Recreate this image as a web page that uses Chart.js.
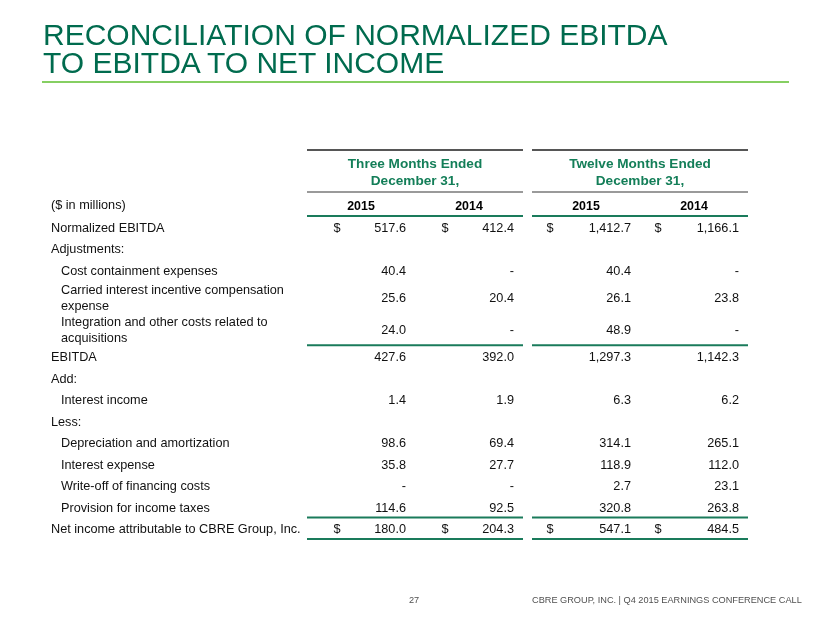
<!DOCTYPE html>
<html><head><meta charset="utf-8">
<script src="https://cdn.jsdelivr.net/npm/chart.js@4.4.1/dist/chart.umd.min.js"></script>
<style>
html,body{margin:0;padding:0;background:#fff;width:830px;height:623px;overflow:hidden;font-family:"Liberation Sans",Arial,sans-serif;}
#wrap{position:absolute;left:0;top:0;width:830px;height:623px;}
#title{position:absolute;left:43px;top:21px;font-size:30px;line-height:27.5px;color:#006B4E;white-space:nowrap;}
#rule{position:absolute;left:42px;top:81px;width:747px;height:1.5px;background:#86CF62;}
.foot{position:absolute;top:594px;font-size:9.2px;color:#505050;line-height:13px;white-space:nowrap;}
#pg{left:404px;width:20px;text-align:center;}
#ft{left:532px;}
</style></head><body>
<div id="wrap"><canvas id="c" width="830" height="623"></canvas></div>
<div id="title">RECONCILIATION OF NORMALIZED EBITDA<br>TO EBITDA TO NET INCOME</div>
<div id="rule"></div>
<div class="foot" id="pg">27</div>
<div class="foot" id="ft">CBRE GROUP, INC. | Q4 2015 EARNINGS CONFERENCE CALL</div>
<script>
// ---- data ----
const unitLabel = '($ in millions)';
const groupHeaders = [['Three Months Ended', 'December 31,'], ['Twelve Months Ended', 'December 31,']];
const yearLabels = ['2015', '2014', '2015', '2014'];
const rowLabels = [
  'Normalized EBITDA',
  'Adjustments:',
  'Cost containment expenses',
  ['Carried interest incentive compensation', 'expense'],
  ['Integration and other costs related to', 'acquisitions'],
  'EBITDA',
  'Add:',
  'Interest income',
  'Less:',
  'Depreciation and amortization',
  'Interest expense',
  'Write-off of financing costs',
  'Provision for income taxes',
  'Net income attributable to CBRE Group, Inc.'
];
const rowLevels = [0, 0, 1, 1, 1, 0, 0, 1, 0, 1, 1, 1, 1, 0];
const currencyRows = [true, false, false, false, false, false, false, false, false, false, false, false, false, true];
const totalRows = ['EBITDA', 'Net income attributable to CBRE Group, Inc.'];
// 0 is shown as "-"; null = no cell
const threeMonths2015 = [517.6, null, 40.4, 25.6, 24.0, 427.6, null, 1.4, null, 98.6, 35.8, 0, 114.6, 180.0];
const threeMonths2014 = [412.4, null, 0, 20.4, 0, 392.0, null, 1.9, null, 69.4, 27.7, 0, 92.5, 204.3];
const twelveMonths2015 = [1412.7, null, 40.4, 26.1, 48.9, 1297.3, null, 6.3, null, 314.1, 118.9, 2.7, 320.8, 547.1];
const twelveMonths2014 = [1166.1, null, 0, 23.8, 0, 1142.3, null, 6.2, null, 265.1, 112.0, 23.1, 263.8, 484.5];

// ---- layout helpers ----
const series = [threeMonths2015, threeMonths2014, twelveMonths2015, twelveMonths2014];
const gapUnits = 9 / 108;
const colGroup = [0, 0, 1, 1];
const colX = series.map((s, c) => colGroup[c] * (2 + gapUnits) + (c % 2) + 0.5);
const groupSpan = [[0, 2], [2 + gapUnits, 4 + gapUnits]];
const rowH = rowLabels.map(l => Array.isArray(l) ? 1.5 : 1);
const rowY = [];
let acc = 0;
rowH.forEach(h => { rowY.push(acc + h / 2); acc += h; });
const totalH = acc;

const FONT = '"Liberation Sans", Arial, sans-serif';
const GREEN_LINE = '#1A7B5B';
const GREEN_TEXT = '#137E58';
const TEXT = '#111111';
const dollarOffset = [-24, -36];
const valueRight = 45;
const dy = 1.5;

function fmt(v) {
  if (v === 0) return '-';
  return v.toLocaleString('en-US', { minimumFractionDigits: 1, maximumFractionDigits: 1 });
}

const tablePlugin = {
  id: 'tablePlugin',
  afterDraw(chart) {
    const { ctx, chartArea: a, scales: { x, y } } = chart;
    ctx.save();
    const hline = (x0, x1, yy, color, w) => {
      ctx.beginPath(); ctx.strokeStyle = color; ctx.lineWidth = w;
      ctx.moveTo(x0, yy); ctx.lineTo(x1, yy); ctx.stroke();
    };
    ctx.textBaseline = 'middle';
    groupSpan.forEach(([s, e], k) => {
      const x0 = x.getPixelForValue(s), x1 = x.getPixelForValue(e);
      hline(x0, x1, a.top - 66, '#1e1e1e', 1.5);
      hline(x0, x1, a.top - 24, '#9a9a9a', 2);
      hline(x0, x1, a.top, GREEN_LINE, 2);
      totalRows.forEach(name => {
        const i = rowLabels.findIndex(l => l === name);
        hline(x0, x1, y.getPixelForValue(rowY[i] - rowH[i] / 2), GREEN_LINE, 2);
      });
      hline(x0, x1, y.getPixelForValue(totalH), GREEN_LINE, 2);
      ctx.font = 'bold 13.6px ' + FONT;
      ctx.fillStyle = GREEN_TEXT;
      ctx.textAlign = 'center';
      ctx.fillText(groupHeaders[k][0], (x0 + x1) / 2, a.top - 53 + dy);
      ctx.fillText(groupHeaders[k][1], (x0 + x1) / 2, a.top - 36 + dy);
    });
    ctx.font = '12.7px ' + FONT;
    ctx.fillStyle = TEXT;
    ctx.textAlign = 'left';
    const labelLeft = a.left - 256;
    ctx.fillText(unitLabel, labelLeft, a.top - 12 + dy);
    rowLabels.forEach((lab, i) => {
      const yc = y.getPixelForValue(rowY[i]) + dy;
      const lines = Array.isArray(lab) ? lab : [lab];
      const lx = labelLeft + rowLevels[i] * 10;
      lines.forEach((t, j) => ctx.fillText(t, lx, yc + (j - (lines.length - 1) / 2) * 16));
    });
    chart.data.datasets.forEach((ds, c) => {
      const meta = chart.getDatasetMeta(c);
      meta.data.forEach((pt, j) => {
        const d = ds.data[j];
        ctx.textAlign = 'right';
        ctx.fillText(fmt(d.v), pt.x + valueRight, pt.y + dy);
        if (currencyRows[d.r]) {
          ctx.textAlign = 'center';
          ctx.fillText('$', pt.x + dollarOffset[colGroup[c]], pt.y + dy);
        }
      });
    });
    ctx.restore();
  }
};

new Chart(document.getElementById('c'), {
  type: 'scatter',
  data: {
    datasets: series.map((vals, c) => ({
      label: yearLabels[c],
      data: vals.map((v, i) => v === null ? null : { x: colX[c], y: rowY[i], v: v, r: i }).filter(Boolean),
      pointRadius: 0,
      pointHoverRadius: 0,
      showLine: false
    }))
  },
  options: {
    responsive: false,
    animation: false,
    devicePixelRatio: 1,
    events: [],
    layout: { padding: { left: 307, right: 82, top: 192, bottom: 84 } },
    plugins: { legend: { display: false }, tooltip: { enabled: false } },
    scales: {
      x: {
        type: 'linear',
        position: 'top',
        min: 0,
        max: 4 + gapUnits,
        grid: { display: false, drawTicks: false },
        border: { display: false },
        afterBuildTicks: s => { s.ticks = colX.map(v => ({ value: v })); },
        afterFit: s => { s.height = 24; },
        ticks: {
          autoSkip: false,
          maxRotation: 0,
          padding: 2,
          color: '#000',
          font: { family: FONT, size: 12.4, weight: 'bold' },
          callback: (v, i) => yearLabels[i]
        }
      },
      y: {
        type: 'linear',
        display: false,
        reverse: true,
        min: 0,
        max: totalH
      }
    }
  },
  plugins: [tablePlugin]
});
</script>
</body></html>
